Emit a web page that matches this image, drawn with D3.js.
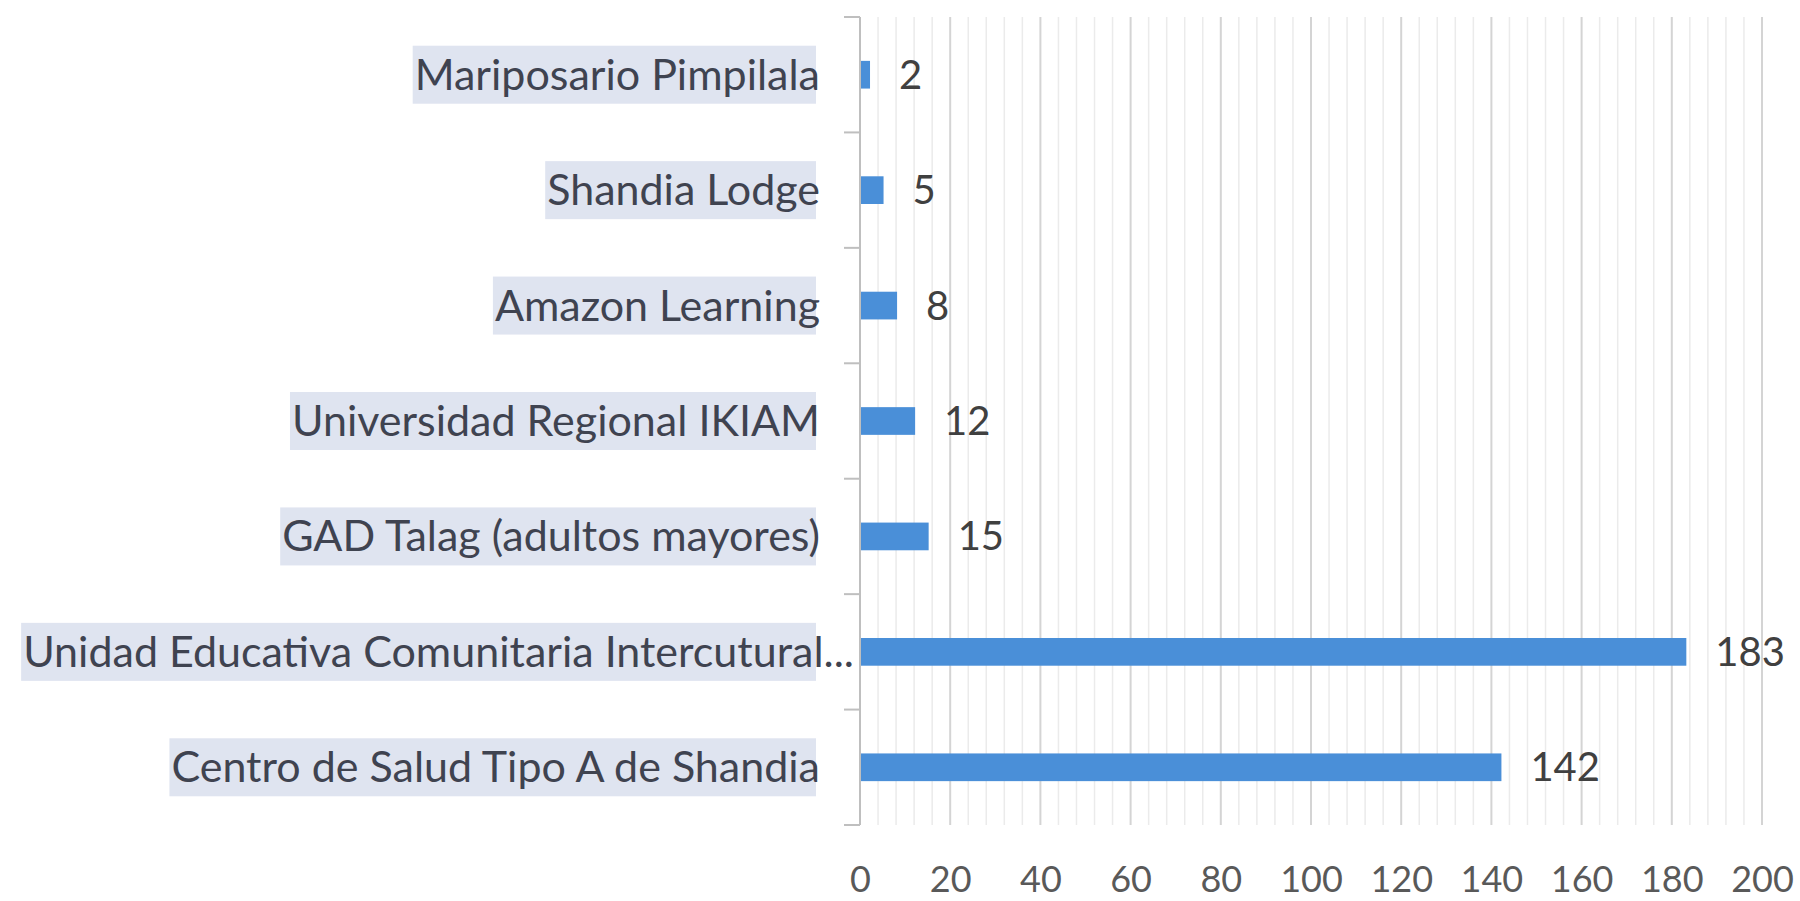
<!DOCTYPE html>
<html>
<head>
<meta charset="utf-8">
<script src="https://cdn.jsdelivr.net/npm/d3@7"></script>
<style>
  html, body { margin: 0; padding: 0; background: #ffffff; }
  svg { display: block; }
</style>
</head>
<body>
<div id="chart"></div>
<script>
// ==================== données ====================//
const categories = [
    "Mariposario Pimpilala",
    "Shandia Lodge",
    "Amazon Learning",
    "Universidad Regional IKIAM ",
    "GAD Talag (adultos mayores)",
    "Unidad Educativa Comunitaria Intercutural...",
    "Centro de Salud Tipo A de Shandia"
];
const values = [2, 5, 8, 12, 15, 183, 142];
const xTicks = [0, 20, 40, 60, 80, 100, 120, 140, 160, 180, 200];
const xMax = 200;

// ==================== dimensions ====================//
const width = 1800;
const height = 901;
const margin = { top: 17, right: 38, bottom: 76, left: 860 };

const svg = d3.select("#chart")
    .append("svg")
    .attr("width", width)
    .attr("height", height);

const x = d3.scaleLinear()
    .domain([0, xMax])
    .range([margin.left, width - margin.right]);

const y = d3.scaleBand()
    .domain(categories)
    .range([margin.top, height - margin.bottom])
    .padding(0);

const barH = y.bandwidth() * 0.24;

// grille mineure (tous les 4) et majeure (tous les 20)
const minor = d3.range(4, xMax + 1, 4).filter(v => v % 20 !== 0);
svg.append("g")
    .selectAll("line")
    .data(minor)
    .join("line")
    .attr("x1", d => x(d)).attr("x2", d => x(d))
    .attr("y1", margin.top).attr("y2", height - margin.bottom)
    .attr("stroke", "#ebebeb")
    .attr("stroke-width", 1.5);

svg.append("g")
    .selectAll("line")
    .data(xTicks.slice(1))
    .join("line")
    .attr("x1", d => x(d)).attr("x2", d => x(d))
    .attr("y1", margin.top).attr("y2", height - margin.bottom)
    .attr("stroke", "#d4d4d4")
    .attr("stroke-width", 2);

// axe x (labels seulement)
const xAxis = svg.append("g")
    .attr("transform", `translate(0,${height - margin.bottom})`)
    .call(d3.axisBottom(x).tickValues(xTicks).tickSize(0).tickPadding(41));
xAxis.select(".domain").remove();
xAxis.selectAll("text")
    .attr("font-family", "Lato, 'Liberation Sans', sans-serif")
    .attr("font-size", 36)
    .attr("fill", "#595959");

// axe y avec petites graduations
const yAxis = svg.append("g")
    .attr("transform", `translate(${margin.left},0)`);
yAxis.append("line")
    .attr("x1", 0).attr("x2", 0)
    .attr("y1", margin.top).attr("y2", height - margin.bottom)
    .attr("stroke", "#bfbfbf")
    .attr("stroke-width", 2);
const bounds = categories.map(c => y(c)).concat([y.range()[1]]);
yAxis.selectAll(".tk")
    .data(bounds)
    .join("line")
    .attr("class", "tk")
    .attr("x1", -16).attr("x2", 0)
    .attr("y1", d => d).attr("y2", d => d)
    .attr("stroke", "#bfbfbf")
    .attr("stroke-width", 2);

// étiquettes des catégories avec fond surligné
const labelEnd = 820;
const labels = svg.append("g");
categories.forEach((c, i) => {
    const cy = y(c) + y.bandwidth() / 2;
    const isLong = c.endsWith("...");
    const t = labels.append("text")
        .attr("x", isLong ? labelEnd + 34 : labelEnd)
        .attr("y", cy)
        .attr("dy", "0.35em")
        .attr("text-anchor", "end")
        .attr("font-family", "Lato, 'Liberation Sans', sans-serif")
        .attr("font-size", 43)
        .attr("fill", "#3f4350")
        .text(c);
    const bb = t.node().getBBox();
    labels.insert("rect", "text")
        .attr("x", bb.x - 2)
        .attr("y", cy - 29)
        .attr("width", 816 - bb.x + 2)
        .attr("height", 58)
        .attr("fill", "#dfe4f0");
});

// barres
svg.append("g")
    .selectAll("rect")
    .data(values)
    .join("rect")
    .attr("x", x(0) + 1)
    .attr("y", (d, i) => y(categories[i]) + y.bandwidth() / 2 - barH / 2)
    .attr("width", d => x(d) - x(0))
    .attr("height", barH)
    .attr("fill", "#4a8fd8");

// valeurs
svg.append("g")
    .selectAll("text")
    .data(values)
    .join("text")
    .attr("x", d => x(d) + 30)
    .attr("y", (d, i) => y(categories[i]) + y.bandwidth() / 2)
    .attr("dy", "0.35em")
    .attr("font-family", "Lato, 'Liberation Sans', sans-serif")
    .attr("font-size", 40)
    .attr("fill", "#404040")
    .text(d => d);
</script>
</body>
</html>
